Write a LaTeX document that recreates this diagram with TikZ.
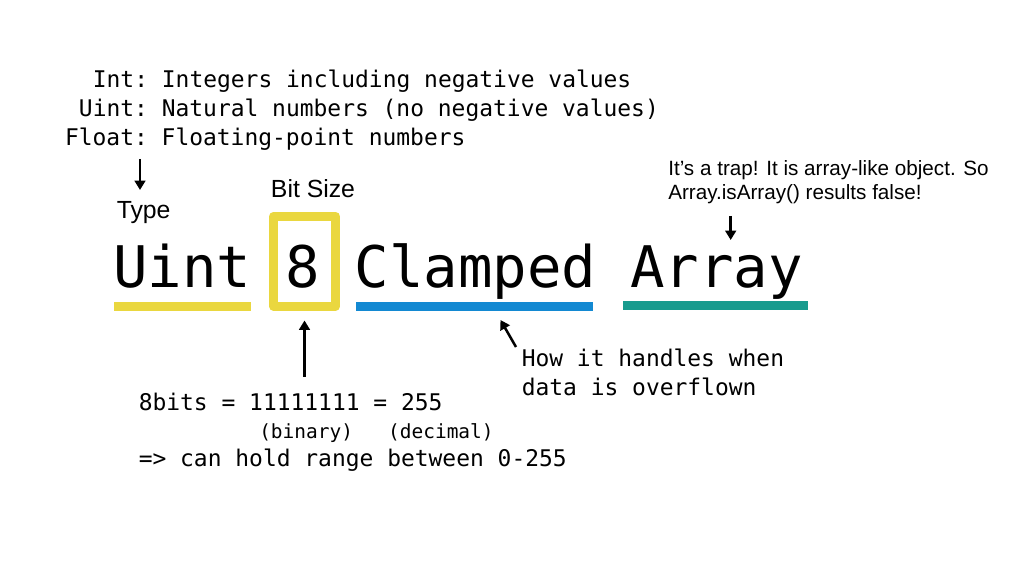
\documentclass[tikz,border=0pt]{standalone}
\usepackage{fontspec}
\setmainfont{Liberation Sans}
\setmonofont{DejaVu Sans Mono}
\usetikzlibrary{arrows.meta}
\definecolor{uyellow}{HTML}{EAD73F}
\definecolor{ublue}{HTML}{1389D2}
\definecolor{uteal}{HTML}{189B8E}
\begin{document}
\begin{tikzpicture}[x=0.75pt,y=-0.75pt,
  mono/.style={font=\ttfamily\fontsize{17.2}{20}\selectfont, inner sep=0pt, anchor=base west},
  big/.style={font=\ttfamily\fontsize{43}{50}\selectfont, inner sep=0pt, anchor=base west},
  small/.style={font=\ttfamily\fontsize{14.6}{17}\selectfont, inner sep=0pt, anchor=base west},
  lbl/.style={font=\fontsize{18.6}{22}\selectfont, inner sep=0pt, anchor=base west},
  note/.style={font=\fontsize{15.5}{18.6}\selectfont, inner sep=0pt, anchor=base west},
  arr/.style={line width=1.9pt, -{Triangle[width=8pt,length=7pt]}},
  under/.style={line width=6.75pt},
]
\useasboundingbox (0,0) rectangle (1029,566);

% type legend
\node[mono] (int) at (92.6,88) {Int: Integers including negative values};
\node[mono] (uint) at (78.7,117) {Uint: Natural numbers (no negative values)};
\node[mono] (float) at (64.8,146) {Float: Floating-point numbers};

% labels
\node[lbl] (type) at (116.5,219) {Type};
\node[lbl] (bitsize) at (270.7,198) {Bit Size};
\node[note] (trap1) at (668,176) {It’s a trap! It is array-like object. So};
\node[note] (trap2) at (668,200) {Array.isArray() results false!};

% main name
\node[big] (wUint) at (113,288) {Uint};
\node[big] (w8) at (285.5,288) {8};
\node[big] (wClamped) at (354.5,288) {Clamped};
\node[big] (wArray) at (630,288) {Array};

% markers
\draw[uyellow, under] (114,306.5) -- (251,306.5);
\draw[uyellow, line width=6.75pt, line join=round] (273.7,216.3) rectangle (335.5,306.3);
\draw[ublue, under] (356,306.7) -- (593.3,306.7);
\draw[uteal, under] (623.3,305.3) -- (808.3,305.3);

% bottom notes
\node[mono] (how1) at (521.5,367) {How it handles when};
\node[mono] (how2) at (521.5,396) {data is overflown};
\node[mono] (bits) at (138.5,410.5) {8bits = 11111111 = 255};
\node[small] (bindec) at (259,438.5) {(binary)\ \ \ (decimal)};
\node[mono] (range) at (138.5,466.5) {=> can hold range between 0-255};

% arrows
\coordinate (tA) at (140,159);
\coordinate (tB) at (140,190);
\draw[arr] (tA) -- (tB);
\coordinate (aA) at (730.7,216);
\coordinate (aB) at (730.7,240);
\draw[arr] (aA) -- (aB);
\coordinate (bA) at (304.5,377);
\coordinate (bB) at (304.5,320.5);
\draw[arr] (bA) -- (bB);
\coordinate (cA) at (516,347);
\coordinate (cB) at (500.5,320);
\draw[arr] (cA) -- (cB);
\end{tikzpicture}
\end{document}
